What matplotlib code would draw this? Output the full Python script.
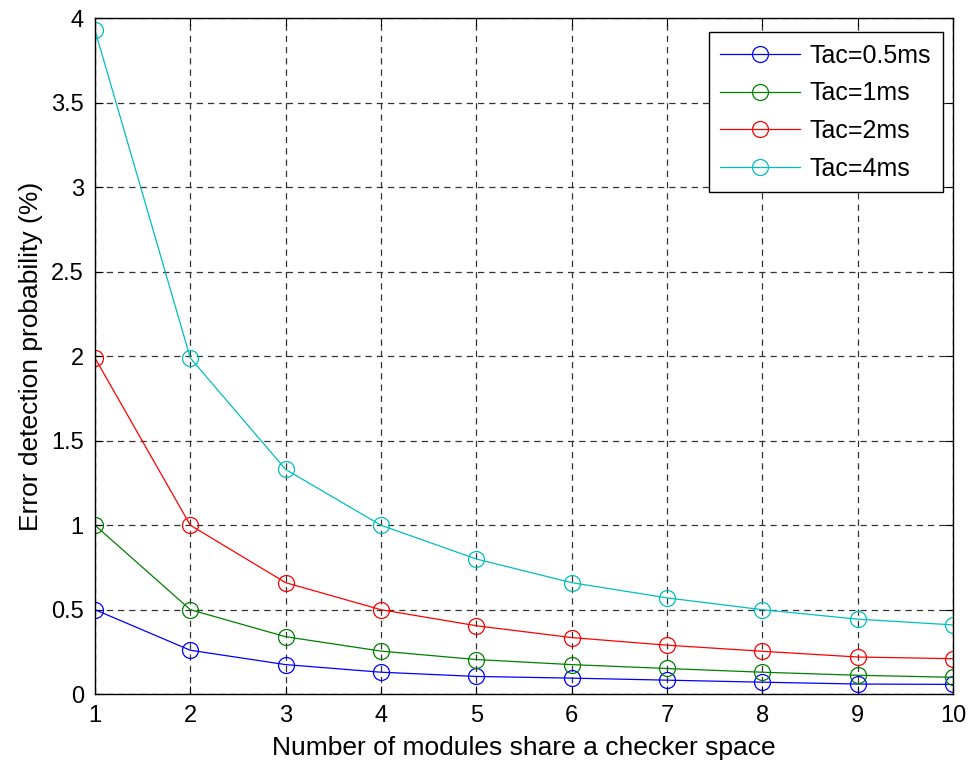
import matplotlib
matplotlib.use('Agg')
import matplotlib.pyplot as plt

plt.rcParams['font.family'] = ['Liberation Sans', 'DejaVu Sans']
plt.rcParams['font.size'] = 17

# data
modules = [1, 2, 3, 4, 5, 6, 7, 8, 9, 10]
tac_05 = [0.50, 0.26, 0.175, 0.13, 0.105, 0.095, 0.083, 0.071, 0.06, 0.058]
tac_1 = [1.0, 0.50, 0.34, 0.255, 0.205, 0.175, 0.152, 0.13, 0.112, 0.10]
tac_2 = [1.99, 1.0, 0.66, 0.50, 0.405, 0.335, 0.29, 0.254, 0.22, 0.21]
tac_4 = [3.93, 1.99, 1.33, 1.0, 0.80, 0.66, 0.57, 0.50, 0.444, 0.41]

labels = ['Tac=0.5ms', 'Tac=1ms', 'Tac=2ms', 'Tac=4ms']
colors = ['#0000ff', '#008000', '#ff0000', '#00bfbf']

fig = plt.figure(figsize=(9.69, 7.62), dpi=100)
ax = fig.add_axes([0.098, 0.089, 0.8855, 0.887])

for ys, lab, c in zip([tac_05, tac_1, tac_2, tac_4], labels, colors):
    ax.plot(modules, ys, color=c, lw=0.9, marker='o', markersize=11.5,
            markerfacecolor='none', markeredgewidth=0.9, label=lab)

ax.set_xlim(1, 10)
ax.set_ylim(0, 4)
ax.set_xticks(range(1, 11))
ax.set_yticks([0, 0.5, 1, 1.5, 2, 2.5, 3, 3.5, 4])
ax.set_yticklabels(['0', '0.5', '1', '1.5', '2', '2.5', '3', '3.5', '4'])
ax.grid(True, color='#333333', linestyle=(0, (5, 4)), linewidth=0.9)
ax.tick_params(direction='in', top=True, right=True, length=6, width=0.8,
               pad=8, labelsize=17)
for s in ax.spines.values():
    s.set_linewidth(1.0)

ax.set_xlabel('Number of modules share a checker space', fontsize=19, labelpad=6)
ax.set_ylabel('Error detection probability (%)', fontsize=19, labelpad=6)

leg = ax.legend(loc='upper right', fancybox=False, framealpha=1,
                edgecolor='black', borderpad=0.45, handlelength=3.2,
                handletextpad=0.4, labelspacing=0.55, fontsize=18,
                borderaxespad=0, bbox_to_anchor=(0.988, 0.979))
leg.get_frame().set_linewidth(1.0)

plt.savefig('out.png', dpi=100)
